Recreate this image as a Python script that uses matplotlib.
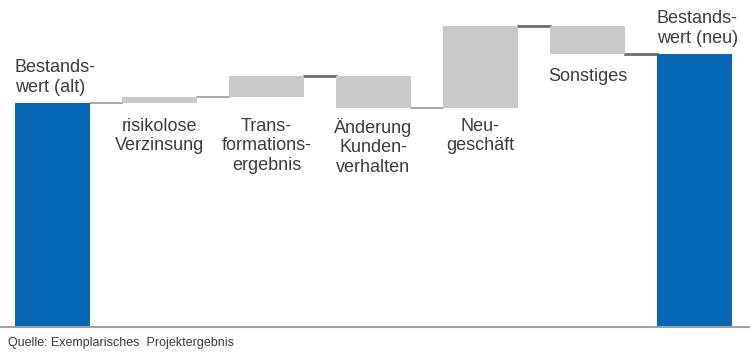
import matplotlib.pyplot as plt
import numpy as np

plt.rcParams["font.family"] = ["Liberation Sans", "DejaVu Sans"]

# --- data ---
labels = [
    "Bestands-\nwert (alt)",
    "risikolose\nVerzinsung",
    "Trans-\nformations-\nergebnis",
    "Änderung\nKunden-\nverhalten",
    "Neu-\ngeschäft",
    "Sonstiges",
    "Bestands-\nwert (neu)",
]
start_value = 100.0
changes = [2.5, 9.5, -14.0, 36.5, -12.5]
source = "Quelle: Exemplarisches  Projektergebnis"

blue = "#0767b4"
grey = "#c8c8c8"
text_col = "#3c3c3c"

levels = start_value + np.cumsum([0] + changes)
end_value = levels[-1]

fig = plt.figure(figsize=(7.5, 3.58), dpi=100)
ax = fig.add_axes([0, 31 / 358, 1, 327 / 358])

x = np.arange(len(labels))
w = 0.70

bottoms = [0] + [min(levels[i], levels[i + 1]) for i in range(len(changes))] + [0]
heights = [start_value] + [abs(c) for c in changes] + [end_value]
colors = [blue] + [grey] * len(changes) + [blue]
ax.bar(x, heights, bottom=bottoms, width=w, color=colors, zorder=2)

# connectors between bars
conn_style = [
    ("#9a9a9a", 1.2),
    ("#9a9a9a", 1.2),
    ("#6e6e6e", 2.0),
    ("#9a9a9a", 1.2),
    ("#6e6e6e", 2.0),
    ("#6e6e6e", 2.0),
]
for i in range(len(labels) - 1):
    c, lw = conn_style[i]
    ax.plot([x[i] + w / 2, x[i + 1] - w / 2], [levels[i], levels[i]],
            color=c, lw=lw, zorder=1)

# labels
fs = 13
ls = 1.22
ax.text(x[0] - w / 2, start_value + 3.2, labels[0], ha="left", va="bottom",
        fontsize=fs, color=text_col, linespacing=ls)
ax.text(x[-1] - w / 2, end_value + 3.2, labels[-1], ha="left", va="bottom",
        fontsize=fs, color=text_col, linespacing=ls)
for i in range(1, 5):
    ax.text(x[i], 93.5, labels[i], ha="center", va="top",
            fontsize=fs, color=text_col, linespacing=ls)
ax.text(x[5], 115.5, labels[5], ha="center", va="top",
        fontsize=fs, color=text_col, linespacing=ls)

ax.set_xlim(-0.49, 6.52)
ax.set_ylim(0, 146)
for s in ["top", "left", "right"]:
    ax.spines[s].set_visible(False)
ax.spines["bottom"].set_color("#a0a0a0")
ax.spines["bottom"].set_linewidth(1.5)
ax.set_xticks([])
ax.set_yticks([])
ax.patch.set_alpha(0)

fig.text(8 / 750, 1 - 343 / 358, source, ha="left", va="center",
         fontsize=9, color=text_col)

fig.savefig("out.png", dpi=100)
